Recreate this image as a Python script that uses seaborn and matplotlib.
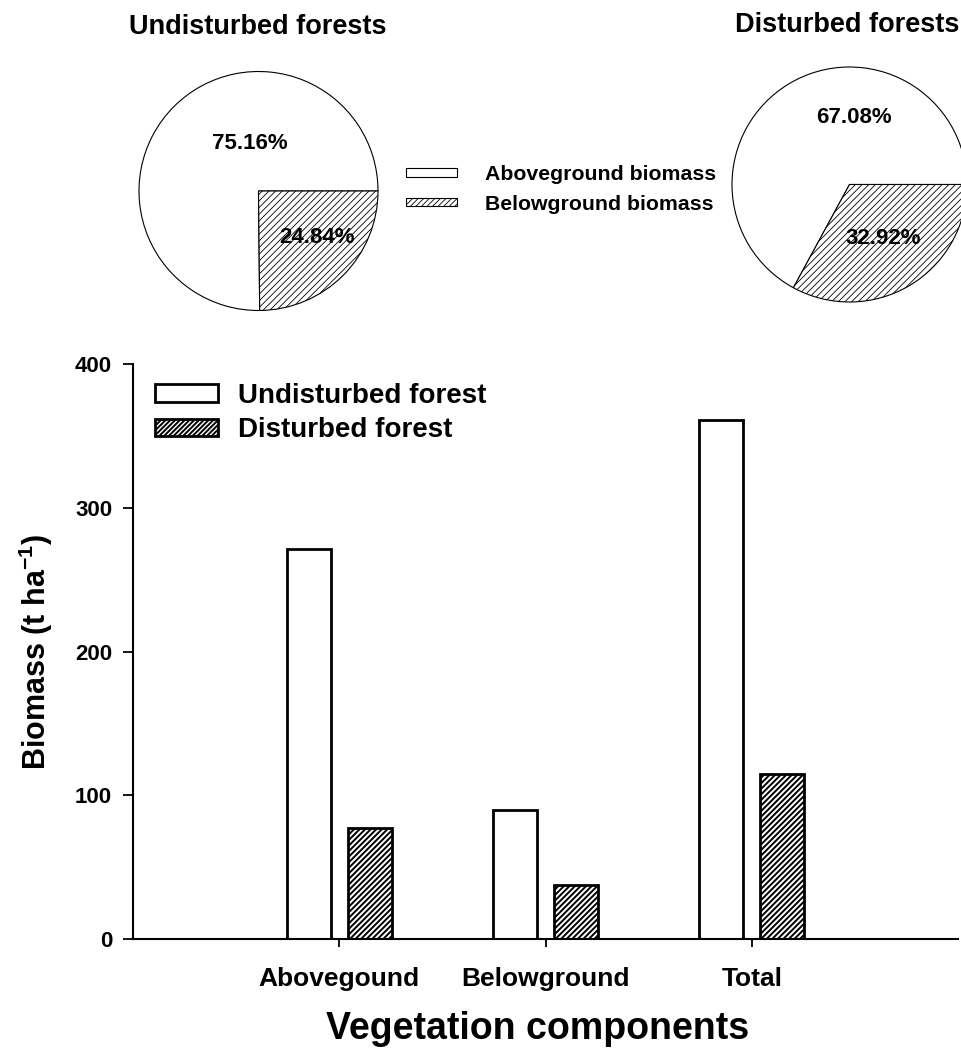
import matplotlib
matplotlib.use("Agg")
import matplotlib.pyplot as plt
from matplotlib.patches import Patch
import pandas as pd
import seaborn as sns

# bar chart data (t/ha)
components = ['Abovegound', 'Belowground', 'Total']
forest_types = ['Undisturbed forest', 'Disturbed forest']
undisturbed_biomass = [271.2, 89.6, 360.8]
disturbed_biomass = [76.9, 37.7, 114.6]

# pie chart data (%)
pie_parts = ['Aboveground biomass', 'Belowground biomass']
undisturbed_share = [75.16, 24.84]
disturbed_share = [67.08, 32.92]

sns.set_style('ticks')
plt.rcParams['font.family'] = ['Liberation Sans', 'DejaVu Sans']
plt.rcParams['font.weight'] = 'bold'
plt.rcParams['mathtext.fontset'] = 'custom'
plt.rcParams['mathtext.rm'] = 'Liberation Sans:bold'
plt.rcParams['mathtext.bf'] = 'Liberation Sans:bold'
plt.rcParams['mathtext.it'] = 'Liberation Sans:bold'
for key in ['text.color', 'axes.labelcolor', 'xtick.color', 'ytick.color',
            'axes.edgecolor', 'hatch.color']:
    plt.rcParams[key] = 'black'


def set_hatch_lw(patch, lw):
    if hasattr(patch, 'set_hatch_linewidth'):
        patch.set_hatch_linewidth(lw)


W, H = 962, 1048
fig = plt.figure(figsize=(W / 100, H / 100), dpi=100)

# ---- bar chart ----
ax = fig.add_axes([133 / W, 1 - 939 / H, 825 / W, 575 / H])
df = pd.DataFrame({
    'component': components * 2,
    'forest': [forest_types[0]] * 3 + [forest_types[1]] * 3,
    'biomass': undisturbed_biomass + disturbed_biomass,
})
BAR_HATCH_LW = 1.4
with plt.rc_context({'hatch.linewidth': BAR_HATCH_LW}):
    sns.barplot(data=df, x='component', y='biomass', hue='forest',
                hue_order=forest_types, palette=['white', 'white'],
                edgecolor='black', linewidth=2, width=0.592, gap=0.28,
                saturation=1, errorbar=None, legend=False, ax=ax)
    for bar in ax.containers[1]:
        bar.set_hatch('//////')
        set_hatch_lw(bar, BAR_HATCH_LW)

ax.set_xlim(-1, 3)
ax.set_ylim(0, 400)
ax.set_yticks([0, 100, 200, 300, 400])
sns.despine(ax=ax)
for s in ['left', 'bottom']:
    ax.spines[s].set_linewidth(1.5)
ax.tick_params(axis='y', direction='out', length=7, width=1.3, labelsize=16, pad=8)
ax.tick_params(axis='x', direction='out', length=6, width=1.3, labelsize=19, pad=14)
ax.set_xlabel('Vegetation components', fontsize=27, fontweight='bold')
ax.xaxis.set_label_coords(0.49, -0.125)
ax.set_ylabel('Biomass (t ha$^{-1}$)', fontsize=22, fontweight='bold')
ax.yaxis.set_label_coords(-0.095, 0.5)

with plt.rc_context({'hatch.linewidth': BAR_HATCH_LW}):
    h1 = Patch(facecolor='white', edgecolor='black', linewidth=2)
    h2 = Patch(facecolor='white', edgecolor='black', linewidth=2, hatch='///////')
    set_hatch_lw(h2, BAR_HATCH_LW)
    ax.legend([h1, h2], forest_types, loc='center left',
              bbox_to_anchor=(155 / W, 1 - 413 / H),
              bbox_transform=fig.transFigure, frameon=False,
              fontsize=20, handlelength=2.27, handleheight=0.58,
              handletextpad=0.7, labelspacing=0.3, borderpad=0,
              borderaxespad=0)


# ---- pies ----
def draw_pie(box, shares, label_pos):
    pax = fig.add_axes(box)
    with plt.rc_context({'hatch.linewidth': 0.6}):
        wedges, _ = pax.pie(shares, colors=['white', 'white'], hatch=['', '/////'],
                            startangle=0, counterclock=True,
                            wedgeprops={'edgecolor': 'black', 'linewidth': 0.8,
                                        'clip_on': False})
        for w in wedges:
            set_hatch_lw(w, 0.6)
    pax.set_xlim(-1, 1)
    pax.set_ylim(-1, 1)
    for val, (x, y) in zip(shares, label_pos):
        pax.text(x, y, f'{val:.2f}%', ha='center', va='center',
                 fontsize=16, fontweight='bold')
    return pax


draw_pie([139 / W, 1 - 310.5 / H, 239 / W, 239 / H], undisturbed_share,
         [(-0.07, 0.40), (0.49, -0.39)])
draw_pie([732 / W, 1 - 302 / H, 235 / W, 235 / H], disturbed_share,
         [(0.04, 0.57), (0.29, -0.46)])

fig.text(258 / W, 1 - 27 / H, 'Undisturbed forests', ha='center', va='center',
         fontsize=19.5, fontweight='bold')
fig.text(847 / W, 1 - 25 / H, 'Disturbed forests', ha='center', va='center',
         fontsize=19.5, fontweight='bold')

with plt.rc_context({'hatch.linewidth': 0.6}):
    p1 = Patch(facecolor='white', edgecolor='black', linewidth=0.8)
    p2 = Patch(facecolor='white', edgecolor='black', linewidth=0.8, hatch='//////')
    set_hatch_lw(p2, 0.6)
    fig.legend([p1, p2], pie_parts, loc='center left',
               bbox_to_anchor=(406 / W, 1 - 189.5 / H), frameon=False,
               fontsize=15.3, handlelength=2.4, handleheight=0.25,
               handletextpad=1.3, labelspacing=0.5, borderpad=0,
               borderaxespad=0)

fig.savefig('out.png', dpi=100)
